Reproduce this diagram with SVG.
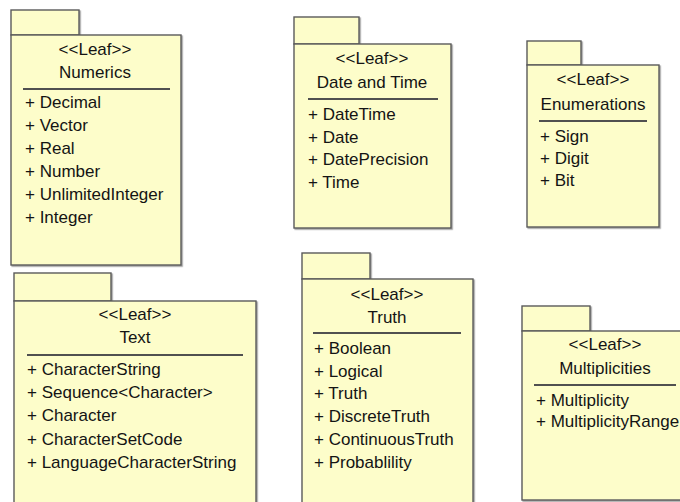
<svg xmlns="http://www.w3.org/2000/svg" width="680" height="502" viewBox="0 0 680 502">
  <defs>
    <filter id="shade" x="-5%" y="-5%" width="115%" height="115%">
      <feDropShadow dx="1.2" dy="1.2" stdDeviation="0.6" flood-color="#8a8a8a" flood-opacity="0.8"/>
    </filter>
  </defs>
  <style>
    .pkg rect { fill: #fdfdca; stroke: #5a5a5a; stroke-width: 1.4; filter: url(#shade); }
    .sep { stroke: #505050; stroke-width: 2; }
    text { font-family: "Liberation Sans", Arial, Helvetica, sans-serif; font-size: 17px; fill: #141414; }
    .stereo, .name { text-anchor: middle; }
  </style>
  <rect width="680" height="502" fill="#ffffff"/>

  <!-- Numerics package -->
  <g id="numerics" class="pkg">
    <rect x="11" y="10" width="68" height="25"/>
    <rect x="11" y="35" width="170" height="230"/>
    <text class="stereo" x="95" y="55">&lt;&lt;Leaf&gt;&gt;</text>
    <text class="name" x="95" y="78">Numerics</text>
    <line class="sep" x1="23" y1="89" x2="170" y2="89"/>
    <text x="25" y="108">+ Decimal</text>
    <text x="25" y="131">+ Vector</text>
    <text x="25" y="154">+ Real</text>
    <text x="25" y="177">+ Number</text>
    <text x="25" y="200">+ UnlimitedInteger</text>
    <text x="25" y="223">+ Integer</text>
  </g>

  <!-- Date and Time package -->
  <g id="date-and-time" class="pkg">
    <rect x="294" y="17" width="65" height="27"/>
    <rect x="294" y="44" width="157" height="184"/>
    <text class="stereo" x="372" y="64">&lt;&lt;Leaf&gt;&gt;</text>
    <text class="name" x="372" y="88">Date and Time</text>
    <line class="sep" x1="308" y1="99" x2="438" y2="99"/>
    <text x="308" y="120">+ DateTime</text>
    <text x="308" y="143">+ Date</text>
    <text x="308" y="165">+ DatePrecision</text>
    <text x="308" y="188">+ Time</text>
  </g>

  <!-- Enumerations package -->
  <g id="enumerations" class="pkg">
    <rect x="527" y="41" width="54" height="24"/>
    <rect x="527" y="65" width="132" height="162"/>
    <text class="stereo" x="593" y="85">&lt;&lt;Leaf&gt;&gt;</text>
    <text class="name" x="593" y="110">Enumerations</text>
    <line class="sep" x1="539" y1="121" x2="647" y2="121"/>
    <text x="540" y="142">+ Sign</text>
    <text x="540" y="164">+ Digit</text>
    <text x="540" y="186">+ Bit</text>
  </g>

  <!-- Text package -->
  <g id="text" class="pkg">
    <rect x="14" y="273" width="97" height="28"/>
    <rect x="14" y="301" width="242" height="215"/>
    <text class="stereo" x="135" y="320">&lt;&lt;Leaf&gt;&gt;</text>
    <text class="name" x="135" y="343">Text</text>
    <line class="sep" x1="27" y1="355" x2="243" y2="355"/>
    <text x="27" y="375">+ CharacterString</text>
    <text x="27" y="398">+ Sequence&lt;Character&gt;</text>
    <text x="27" y="421">+ Character</text>
    <text x="27" y="445">+ CharacterSetCode</text>
    <text x="27" y="468">+ LanguageCharacterString</text>
  </g>

  <!-- Truth package -->
  <g id="truth" class="pkg">
    <rect x="302" y="253" width="68" height="26"/>
    <rect x="302" y="279" width="171" height="235"/>
    <text class="stereo" x="387" y="300">&lt;&lt;Leaf&gt;&gt;</text>
    <text class="name" x="387" y="323">Truth</text>
    <line class="sep" x1="313" y1="333" x2="461" y2="333"/>
    <text x="314" y="354">+ Boolean</text>
    <text x="314" y="377">+ Logical</text>
    <text x="314" y="399">+ Truth</text>
    <text x="314" y="422">+ DiscreteTruth</text>
    <text x="314" y="445">+ ContinuousTruth</text>
    <text x="314" y="468">+ Probablility</text>
  </g>

  <!-- Multiplicities package -->
  <g id="multiplicities" class="pkg">
    <rect x="522" y="306" width="68" height="25"/>
    <rect x="522" y="331" width="172" height="169"/>
    <text class="stereo" x="605" y="350">&lt;&lt;Leaf&gt;&gt;</text>
    <text class="name" x="605" y="374">Multiplicities</text>
    <line class="sep" x1="534" y1="385" x2="676" y2="385"/>
    <text x="536" y="406">+ Multiplicity</text>
    <text x="536" y="427">+ MultiplicityRange</text>
  </g>
</svg>
